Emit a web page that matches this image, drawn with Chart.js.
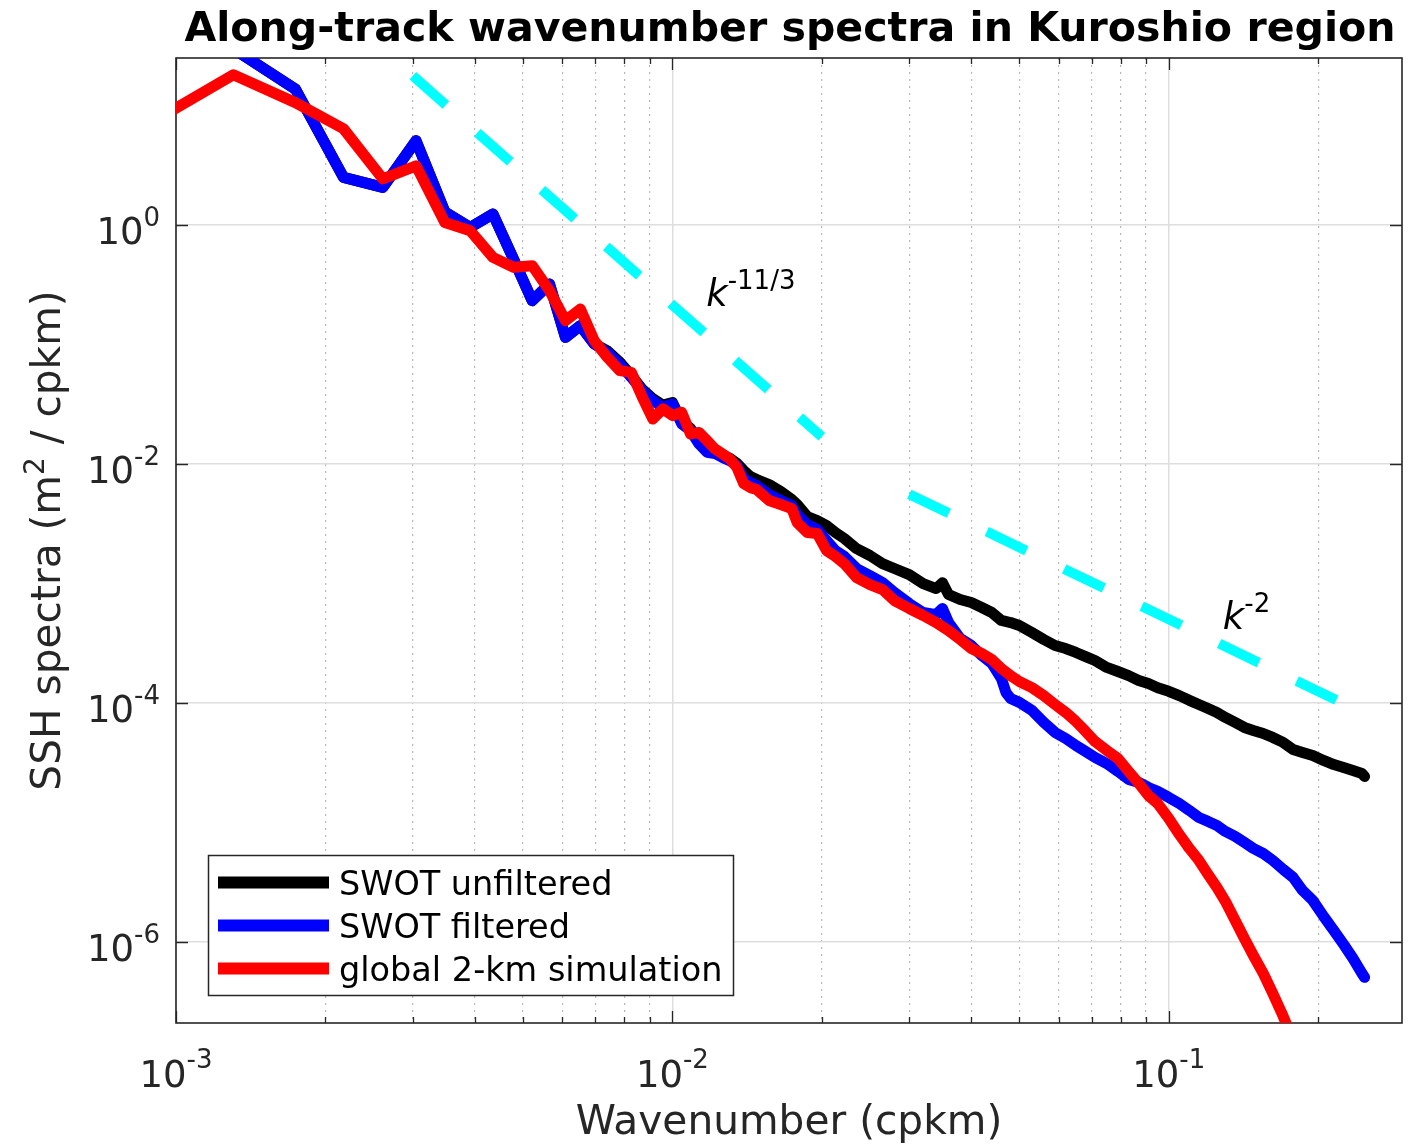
<!DOCTYPE html>
<html>
<head>
<meta charset="utf-8">
<script src="https://cdn.jsdelivr.net/npm/chart.js@4.4.1/dist/chart.umd.min.js"></script>
<style>
html,body{margin:0;padding:0;background:#ffffff;}
#wrap{width:1414px;height:1146px;position:relative;}
</style>
</head>
<body>
<div id="wrap"><canvas id="c"></canvas></div>
<script>
// ---------- DATA ----------
// lowest wavenumbers (cpkm), shared by the three spectra
const kLow = [0.00087, 0.001305, 0.00174, 0.002175, 0.00261, 0.003045, 0.00348, 0.003915, 0.00435, 0.004785,
  0.00522, 0.005655, 0.00609, 0.006525, 0.00696, 0.007395, 0.00783, 0.008265, 0.0087, 0.009135,
  0.00957, 0.010005, 0.01044, 0.010875, 0.01131, 0.011745, 0.01218, 0.012615, 0.01305, 0.013485];

// global 2-km simulation (red)
const redLowS = [6.73, 17.96, 10.5, 6.35, 2.42, 3.11, 1.045, 0.891, 0.533, 0.44,
  0.454, 0.281, 0.1575, 0.197, 0.107, 0.0777, 0.0602, 0.0582, 0.036, 0.0237,
  0.0288, 0.0253, 0.027, 0.0178, 0.0183, 0.0156, 0.0133, 0.0121, 0.011, 0.00935];
const redHighK = [0.01392, 0.01436, 0.01479, 0.01566, 0.01653, 0.0174, 0.01784, 0.0187, 0.01958, 0.02045,
  0.0213, 0.0222, 0.0235, 0.025, 0.0265, 0.028, 0.030, 0.032, 0.034, 0.036,
  0.038, 0.040, 0.042, 0.044, 0.046, 0.048, 0.050, 0.053, 0.056, 0.059,
  0.062, 0.065, 0.068, 0.071, 0.075, 0.079, 0.083, 0.087, 0.091, 0.095,
  0.100, 0.105, 0.110, 0.115, 0.120, 0.125, 0.130, 0.136, 0.142, 0.148,
  0.155, 0.162, 0.170, 0.174];
const redHighS = [0.00683, 0.00632, 0.00609, 0.00493, 0.00456, 0.00422, 0.00322, 0.00266, 0.00261, 0.00188,
  0.00168, 0.00146, 0.001118, 0.000977, 0.000887, 0.000718, 0.000616, 0.000538, 0.00047, 0.000403,
  0.000339, 0.000285, 0.000259, 0.000231, 0.000194, 0.000169, 0.000151, 0.000134, 0.000115, 0.000097,
  0.0000831, 0.0000699, 0.0000577, 0.0000476, 0.00004, 0.0000343, 0.0000267, 0.0000212, 0.0000168, 0.0000144,
  0.0000108, 7.94e-6, 6.06e-6, 4.81e-6, 3.67e-6, 2.86e-6, 2.19e-6, 1.52e-6, 1.07e-6, 7.73e-7,
  5.46e-7, 3.72e-7, 2.39e-7, 1.89e-7];

// SWOT filtered (blue)
const blueLowS = [null, 29.6, 13.6, 2.49, 2.05, 5.04, 1.28, 0.95, 1.23, 0.517,
  0.2315, 0.319, 0.1142, 0.143, 0.1006, 0.0855, 0.0684, 0.0529, 0.0409, 0.0338,
  0.0297, 0.0317, 0.0216, 0.019, 0.0147, 0.0125, 0.0122, 0.0113, 0.01063, 0.00966];
const blueHighK = [0.01392, 0.01436, 0.01479, 0.01566, 0.01653, 0.0174, 0.01784, 0.0187, 0.01958, 0.02045,
  0.0213, 0.0222, 0.0235, 0.025, 0.0265, 0.028, 0.030, 0.032, 0.034, 0.035,
  0.036, 0.038, 0.040, 0.042, 0.044, 0.046, 0.047, 0.048, 0.050, 0.053,
  0.056, 0.059, 0.062, 0.065, 0.068, 0.071, 0.075, 0.079, 0.083, 0.087,
  0.091, 0.095, 0.100, 0.105, 0.110, 0.115, 0.120, 0.125, 0.130, 0.136,
  0.142, 0.148, 0.155, 0.162, 0.170, 0.178, 0.186, 0.195, 0.205, 0.215,
  0.225, 0.235, 0.245, 0.248];
const blueHighS = [0.00752, 0.00696, 0.00657, 0.00553, 0.00493, 0.00447, 0.00376, 0.0031, 0.00282, 0.00228,
  0.00188, 0.00168, 0.00133, 0.001162, 0.001016, 0.000838, 0.000678, 0.00057, 0.000548, 0.000616,
  0.00047, 0.000346, 0.000302, 0.000249, 0.000214, 0.00016, 0.000122, 0.000109, 0.000101, 0.0000864,
  0.0000686, 0.0000566, 0.0000504, 0.000044, 0.0000392, 0.000035, 0.0000311, 0.0000267, 0.0000229, 0.0000216,
  0.0000196, 0.0000182, 0.0000162, 0.0000144, 0.0000126, 0.000011, 0.0000102, 9.44e-6, 8.41e-6, 7.64e-6,
  6.8e-6, 6.06e-6, 5.5e-6, 4.81e-6, 4.05e-6, 3.47e-6, 2.7e-6, 2.23e-6, 1.64e-6, 1.25e-6,
  9.55e-7, 7.29e-7, 5.46e-7, 5.06e-7];

// SWOT unfiltered (black)
const blackLowS = [null, 29.6, 13.6, 2.49, 2.05, 5.04, 1.28, 0.95, 1.23, 0.517,
  0.2315, 0.319, 0.1142, 0.143, 0.1006, 0.088, 0.071, 0.055, 0.042, 0.035,
  0.031, 0.0325, 0.0225, 0.0198, 0.0153, 0.013, 0.0127, 0.0118, 0.0111, 0.0101];
const blackHighK = [0.01392, 0.01436, 0.01479, 0.01566, 0.01653, 0.0174, 0.01784, 0.0187, 0.01958, 0.02045,
  0.0213, 0.0222, 0.0235, 0.025, 0.0265, 0.028, 0.030, 0.032, 0.034, 0.035,
  0.036, 0.038, 0.040, 0.042, 0.044, 0.046, 0.048, 0.050, 0.053, 0.056,
  0.059, 0.062, 0.065, 0.068, 0.071, 0.075, 0.079, 0.083, 0.087, 0.091,
  0.095, 0.100, 0.105, 0.110, 0.115, 0.120, 0.125, 0.130, 0.136, 0.142,
  0.148, 0.155, 0.162, 0.170, 0.178, 0.186, 0.195, 0.205, 0.215, 0.225,
  0.235, 0.245, 0.248];
const blackHighS = [0.00877, 0.00782, 0.00738, 0.0067, 0.00586, 0.00502, 0.00456, 0.00362, 0.00335, 0.00304,
  0.00266, 0.00237, 0.00195, 0.00171, 0.00146, 0.00133, 0.001185, 0.000996, 0.000905, 0.00101,
  0.000806, 0.000732, 0.000691, 0.000628, 0.00057, 0.000489, 0.00047, 0.000444, 0.000388, 0.000339,
  0.000302, 0.000285, 0.000264, 0.000244, 0.000226, 0.000198, 0.000183, 0.000169, 0.000154, 0.000145,
  0.000134, 0.000125, 0.000115, 0.000105, 0.000097, 0.0000898, 0.0000831, 0.0000755, 0.0000686, 0.0000623,
  0.0000588, 0.0000555, 0.0000514, 0.0000467, 0.0000408, 0.0000385, 0.0000363, 0.000033, 0.0000305, 0.0000288,
  0.0000272, 0.0000257, 0.0000242];

// reference slopes
const slope113K = [0.003, 0.02];
const slope113S = [17.6, 0.0168];
const slope2K = [0.03, 0.25];
const slope2S = [0.00556, 0.00008];

// slope annotations
const annoK = [0.0117, 0.1285];
const annoS = [0.21, 0.000419];
const annoExp = ['-11/3', '-2'];

// ticks
const xMajorTicks = [0.001, 0.01, 0.1];
const xMajorExp = ['-3', '-2', '-1'];
const xMinorTicks = [0.002, 0.003, 0.004, 0.005, 0.006, 0.007, 0.008, 0.009,
  0.02, 0.03, 0.04, 0.05, 0.06, 0.07, 0.08, 0.09, 0.2];
const yTicks = [1e-6, 1e-4, 1e-2, 1];
const yTickExp = ['-6', '-4', '-2', '0'];
const xRange = [0.001, 0.295];
const yRange = [2.1e-7, 24.8];

const seriesLabels = ['SWOT unfiltered', 'SWOT filtered', 'global 2-km simulation'];
const titleText = 'Along-track wavenumber spectra in Kuroshio region';
const xTitle = 'Wavenumber (cpkm)';
const yTitleParts = ['SSH spectra (m', '2', ' / cpkm)'];

// ---------- CHART ----------
const FONT = "'DejaVu Sans', sans-serif";
const AXC = '#262626';
function pts(k, s) { return k.map((v, i) => ({x: v, y: s[i]})); }
function isMajor(v) { if (!v) return false; const l = Math.log10(v); return Math.abs(l - Math.round(l)) < 1e-6; }

function drawPow(ctx, base, exp, x, yb, align, fb, fs, raise, color, style) {
  const st = style || '';
  ctx.font = st + fb + 'px ' + FONT; const wb = ctx.measureText(base).width;
  ctx.font = fs + 'px ' + FONT; const we = ctx.measureText(exp).width;
  const total = wb + we;
  const x0 = align === 'center' ? x - total / 2 : (align === 'right' ? x - total : x);
  ctx.fillStyle = color; ctx.textAlign = 'left'; ctx.textBaseline = 'alphabetic';
  ctx.font = st + fb + 'px ' + FONT; ctx.fillText(base, x0, yb);
  ctx.font = fs + 'px ' + FONT; ctx.fillText(exp, x0 + wb, yb - raise);
}

const decor = {
  id: 'decor',
  beforeDatasetsDraw(chart) {
    const {ctx, chartArea: a, scales: {x, y}} = chart;
    ctx.save();
    ctx.strokeStyle = AXC; ctx.lineWidth = 1.3;
    ctx.beginPath();
    xMajorTicks.concat(xMinorTicks).forEach(v => {
      const px = Math.round(x.getPixelForValue(v)) + 0.5;
      const len = isMajor(v) ? 12 : 6;
      ctx.moveTo(px, a.bottom); ctx.lineTo(px, a.bottom - len);
      ctx.moveTo(px, a.top); ctx.lineTo(px, a.top + len);
    });
    yTicks.forEach(v => {
      const py = Math.round(y.getPixelForValue(v)) + 0.5;
      ctx.moveTo(a.left, py); ctx.lineTo(a.left + 12, py);
      ctx.moveTo(a.right, py); ctx.lineTo(a.right - 12, py);
    });
    ctx.stroke();
    ctx.lineWidth = 1.6;
    ctx.strokeRect(a.left, a.top, a.right - a.left, a.bottom - a.top);
    ctx.restore();
  },
  afterDatasetsDraw(chart) {
    const {ctx, chartArea: a, scales: {x, y}} = chart;
    ctx.save();
    // slope annotations
    annoK.forEach((k, i) => {
      drawPow(ctx, 'k', annoExp[i], x.getPixelForValue(k), y.getPixelForValue(annoS[i]),
        'left', 37, 26, 17, '#000000', 'italic ');
    });
    // legend
    const bx = a.left + 32, by = a.bottom - 168, bw = 525, bh = 140;
    ctx.fillStyle = '#ffffff'; ctx.fillRect(bx, by, bw, bh);
    ctx.strokeStyle = AXC; ctx.lineWidth = 1.5; ctx.strokeRect(bx + 0.5, by + 0.5, bw, bh);
    const items = chart.data.datasets.filter(d => d.inLegend);
    items.forEach((d, i) => {
      const ry = by + 27.5 + i * 43;
      ctx.strokeStyle = d.borderColor; ctx.lineWidth = 12; ctx.lineCap = 'butt';
      ctx.beginPath(); ctx.moveTo(bx + 10, ry); ctx.lineTo(bx + 121, ry); ctx.stroke();
      ctx.fillStyle = '#000000'; ctx.font = '33.5px ' + FONT;
      ctx.textAlign = 'left'; ctx.textBaseline = 'alphabetic';
      ctx.fillText(d.label, bx + 131, ry + 12.2);
    });
    ctx.restore();
  },
  afterDraw(chart) {
    const {ctx, chartArea: a, scales: {x, y}} = chart;
    ctx.save();
    // x tick labels
    xMajorTicks.forEach((v, i) => {
      drawPow(ctx, '10', xMajorExp[i], x.getPixelForValue(v), a.bottom + 64, 'center', 37, 26, 19, AXC);
    });
    // y tick labels
    yTicks.forEach((v, i) => {
      drawPow(ctx, '10', yTickExp[i], a.left - 16, y.getPixelForValue(v) + 19, 'right', 37, 26, 18, AXC);
    });
    // title
    ctx.fillStyle = '#000000'; ctx.font = 'bold 41.1px ' + FONT;
    ctx.textAlign = 'center'; ctx.textBaseline = 'alphabetic';
    ctx.fillText(titleText, 790, 41);
    // x title
    ctx.fillStyle = AXC; ctx.font = '40.7px ' + FONT;
    ctx.fillText(xTitle, (a.left + a.right) / 2, a.bottom + 111);
    // y title (rotated, with superscript)
    ctx.translate(60, (a.top + a.bottom) / 2);
    ctx.rotate(-Math.PI / 2);
    ctx.textAlign = 'left';
    ctx.font = '40.7px ' + FONT; const w0 = ctx.measureText(yTitleParts[0]).width;
    ctx.font = '28px ' + FONT; const w1 = ctx.measureText(yTitleParts[1]).width;
    ctx.font = '40.7px ' + FONT; const w2 = ctx.measureText(yTitleParts[2]).width;
    let sx = -(w0 + w1 + w2) / 2;
    ctx.font = '40.7px ' + FONT; ctx.fillText(yTitleParts[0], sx, 0); sx += w0;
    ctx.font = '28px ' + FONT; ctx.fillText(yTitleParts[1], sx, -16); sx += w1;
    ctx.font = '40.7px ' + FONT; ctx.fillText(yTitleParts[2], sx, 0);
    ctx.restore();
  }
};

const lineBase = {pointRadius: 0, borderWidth: 11, tension: 0, fill: false, clip: 0,
  borderJoinStyle: 'round', borderCapStyle: 'round', spanGaps: false};

new Chart(document.getElementById('c'), {
  type: 'line',
  data: {
    datasets: [
      Object.assign({label: seriesLabels[0], data: pts(kLow.concat(blackHighK), blackLowS.concat(blackHighS)),
        borderColor: '#000000', order: 3, inLegend: true}, lineBase),
      Object.assign({label: seriesLabels[1], data: pts(kLow.concat(blueHighK), blueLowS.concat(blueHighS)),
        borderColor: '#0000ff', order: 2, inLegend: true}, lineBase),
      Object.assign({label: seriesLabels[2], data: pts(kLow.concat(redHighK), redLowS.concat(redHighS)),
        borderColor: '#ff0000', order: 1, inLegend: true}, lineBase),
      Object.assign({}, lineBase, {label: 'k^-11/3', data: pts(slope113K, slope113S), borderColor: '#00ffff',
        borderWidth: 10, borderDash: [44, 42], borderCapStyle: 'butt', order: 0, inLegend: false}),
      Object.assign({}, lineBase, {label: 'k^-2', data: pts(slope2K, slope2S), borderColor: '#00ffff',
        borderWidth: 10, borderDash: [44, 42], borderCapStyle: 'butt', order: 0, inLegend: false})
    ]
  },
  options: {
    responsive: true,
    maintainAspectRatio: false,
    animation: false,
    devicePixelRatio: 1,
    layout: {padding: {top: 58, right: 12, left: 0, bottom: 0}},
    plugins: {legend: {display: false}, tooltip: {enabled: false}, title: {display: false}},
    events: [],
    scales: {
      x: {
        type: 'logarithmic', position: 'bottom', min: xRange[0], max: xRange[1],
        afterBuildTicks: s => { s.ticks = xMajorTicks.concat(xMinorTicks).sort((p, q) => p - q).map(v => ({value: v})); },
        afterFit: s => { s.height = 123; },
        ticks: {display: false},
        grid: {
          drawTicks: false,
          color: c => isMajor(c.tick && c.tick.value) ? '#dedede' : '#b8b8b8',
          lineWidth: c => isMajor(c.tick && c.tick.value) ? 1.5 : 1.2
        },
        border: {display: false, dash: c => (c.tick && !isMajor(c.tick.value)) ? [2, 5] : []}
      },
      y: {
        type: 'logarithmic', position: 'left', min: yRange[0], max: yRange[1],
        afterBuildTicks: s => { s.ticks = yTicks.map(v => ({value: v})); },
        afterFit: s => { s.width = 176; },
        ticks: {display: false},
        grid: {drawTicks: false, color: '#dedede', lineWidth: 1.5},
        border: {display: false}
      }
    }
  },
  plugins: [decor]
});
</script>
</body>
</html>
